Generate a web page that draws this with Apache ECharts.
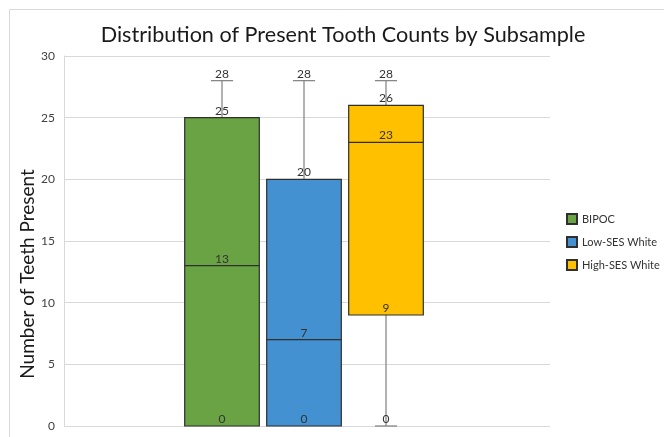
<!DOCTYPE html>
<html>
<head>
<meta charset="utf-8">
<script src="https://cdn.jsdelivr.net/npm/echarts@6/dist/echarts.min.js"></script>
<style>
  html, body { margin: 0; padding: 0; background: #ffffff; }
  #chart { width: 664px; height: 437px; }
</style>
</head>
<body>
<div id="chart"></div>
<script>
// Present tooth counts per subsample (five-number summaries)
const groups = ['BIPOC', 'Low-SES White', 'High-SES White'];
const minValues = [0, 0, 0];
const q1Values = [0, 0, 9];
const medianValues = [13, 7, 23];
const q3Values = [25, 20, 26];
const maxValues = [28, 28, 28];
const yTicks = [0, 5, 10, 15, 20, 25, 30];
const groupColors = ['#69a344', '#4391d1', '#ffc000'];

const FONT = 'Lato, "Open Sans", sans-serif';
const TEXT_COLOR = '#333333';

// Draws one box: filled Q1–Q3 rectangle, median line, grey whiskers with short caps,
// and a value label sitting just above each statistic.
function renderBox(params, api) {
  const cat = api.value(0);
  const stats = [api.value(1), api.value(2), api.value(3), api.value(4), api.value(5)];
  const [vMin, vQ1, vMed, vQ3, vMax] = stats;
  const band = api.size([1, 0])[0];
  const halfBox = band * 0.455;
  const halfCap = band * 0.135;
  const cx = api.coord([cat, 0])[0];
  const yOf = v => api.coord([cat, v])[1];
  const style = api.style();
  const whisker = { stroke: '#7f7f7f', lineWidth: 1.2 };
  const edge = '#2f2f2f';
  const children = [];

  // upper whisker and cap
  children.push({ type: 'line', shape: { x1: cx, y1: yOf(vQ3), x2: cx, y2: yOf(vMax) }, style: whisker });
  children.push({ type: 'line', shape: { x1: cx - halfCap, y1: yOf(vMax), x2: cx + halfCap, y2: yOf(vMax) }, style: whisker });
  // lower whisker and cap
  if (vMin < vQ1) {
    children.push({ type: 'line', shape: { x1: cx, y1: yOf(vQ1), x2: cx, y2: yOf(vMin) }, style: whisker });
    children.push({ type: 'line', shape: { x1: cx - halfCap, y1: yOf(vMin), x2: cx + halfCap, y2: yOf(vMin) }, style: whisker });
  }
  // box
  children.push({
    type: 'rect',
    shape: { x: cx - halfBox, y: yOf(vQ3), width: halfBox * 2, height: yOf(vQ1) - yOf(vQ3) },
    style: { fill: style.fill, stroke: edge, lineWidth: 1.2 }
  });
  // median
  children.push({ type: 'line', shape: { x1: cx - halfBox, y1: yOf(vMed), x2: cx + halfBox, y2: yOf(vMed) }, style: { stroke: edge, lineWidth: 1.2 } });

  // value labels
  const seen = new Set();
  stats.forEach(v => {
    if (seen.has(v)) return;
    seen.add(v);
    children.push({
      type: 'text',
      style: {
        text: String(v), x: cx, y: yOf(v) - 1,
        align: 'center', verticalAlign: 'bottom',
        font: '12px ' + FONT, fill: TEXT_COLOR
      },
      z2: 10
    });
  });

  return { type: 'group', children };
}

const chart = echarts.init(document.getElementById('chart'));

const boxSeries = groups.map((name, i) => ({
  name,
  type: 'custom',
  xAxisIndex: 1,
  yAxisIndex: 1,
  renderItem: renderBox,
  itemStyle: { color: groupColors[i], borderColor: '#2f2f2f', borderWidth: 1 },
  encode: { x: 0, y: [1, 2, 3, 4, 5] },
  data: [[i, minValues[i], q1Values[i], medianValues[i], q3Values[i], maxValues[i]]]
}));

chart.setOption({
  animation: false,
  backgroundColor: '#ffffff',
  title: {
    text: 'Distribution of Present Tooth Counts by Subsample',
    left: 338, top: 19, textAlign: 'center',
    textStyle: { fontFamily: FONT, fontSize: 21.6, fontWeight: 'normal', color: '#1a1a1a' }
  },
  legend: {
    data: groups,
    orient: 'vertical',
    left: 566, top: 213, padding: 0,
    icon: 'rect',
    itemWidth: 10, itemHeight: 10, itemGap: 11,
    textStyle: { fontFamily: FONT, fontSize: 11, color: TEXT_COLOR }
  },
  graphic: [
    {
      type: 'rect', silent: true,
      shape: { x: 9.5, y: 9.5, width: 700, height: 460 },
      style: { fill: 'none', stroke: '#d9d9d9', lineWidth: 1 }
    },
    {
      type: 'text', silent: true,
      x: 28, y: 274, rotation: Math.PI / 2,
      style: {
        text: 'Number of Teeth Present',
        align: 'center', verticalAlign: 'middle',
        font: '19px ' + FONT, fill: '#1a1a1a'
      }
    }
  ],
  grid: [
    { left: 64, top: 56, width: 486, height: 370 },
    { left: 181, top: 56, width: 246, height: 370 }
  ],
  xAxis: [
    {
      gridIndex: 0, type: 'category', data: [''],
      axisLine: { show: false }, axisTick: { show: false }, axisLabel: { show: false }
    },
    {
      gridIndex: 1, type: 'category', data: groups,
      axisLine: { show: false }, axisTick: { show: false }, axisLabel: { show: false }
    }
  ],
  yAxis: [
    {
      gridIndex: 0, type: 'value', min: yTicks[0], max: yTicks[yTicks.length - 1], interval: 5,
      axisLine: { show: true, lineStyle: { color: '#d9d9d9' } },
      axisTick: { show: false },
      axisLabel: { fontFamily: FONT, fontSize: 12, color: '#404040', margin: 9 },
      splitLine: { show: true, lineStyle: { color: '#d9d9d9', width: 1 } }
    },
    {
      gridIndex: 1, type: 'value', min: yTicks[0], max: yTicks[yTicks.length - 1],
      show: false, splitLine: { show: false }
    }
  ],
  series: boxSeries
});
</script>
</body>
</html>
